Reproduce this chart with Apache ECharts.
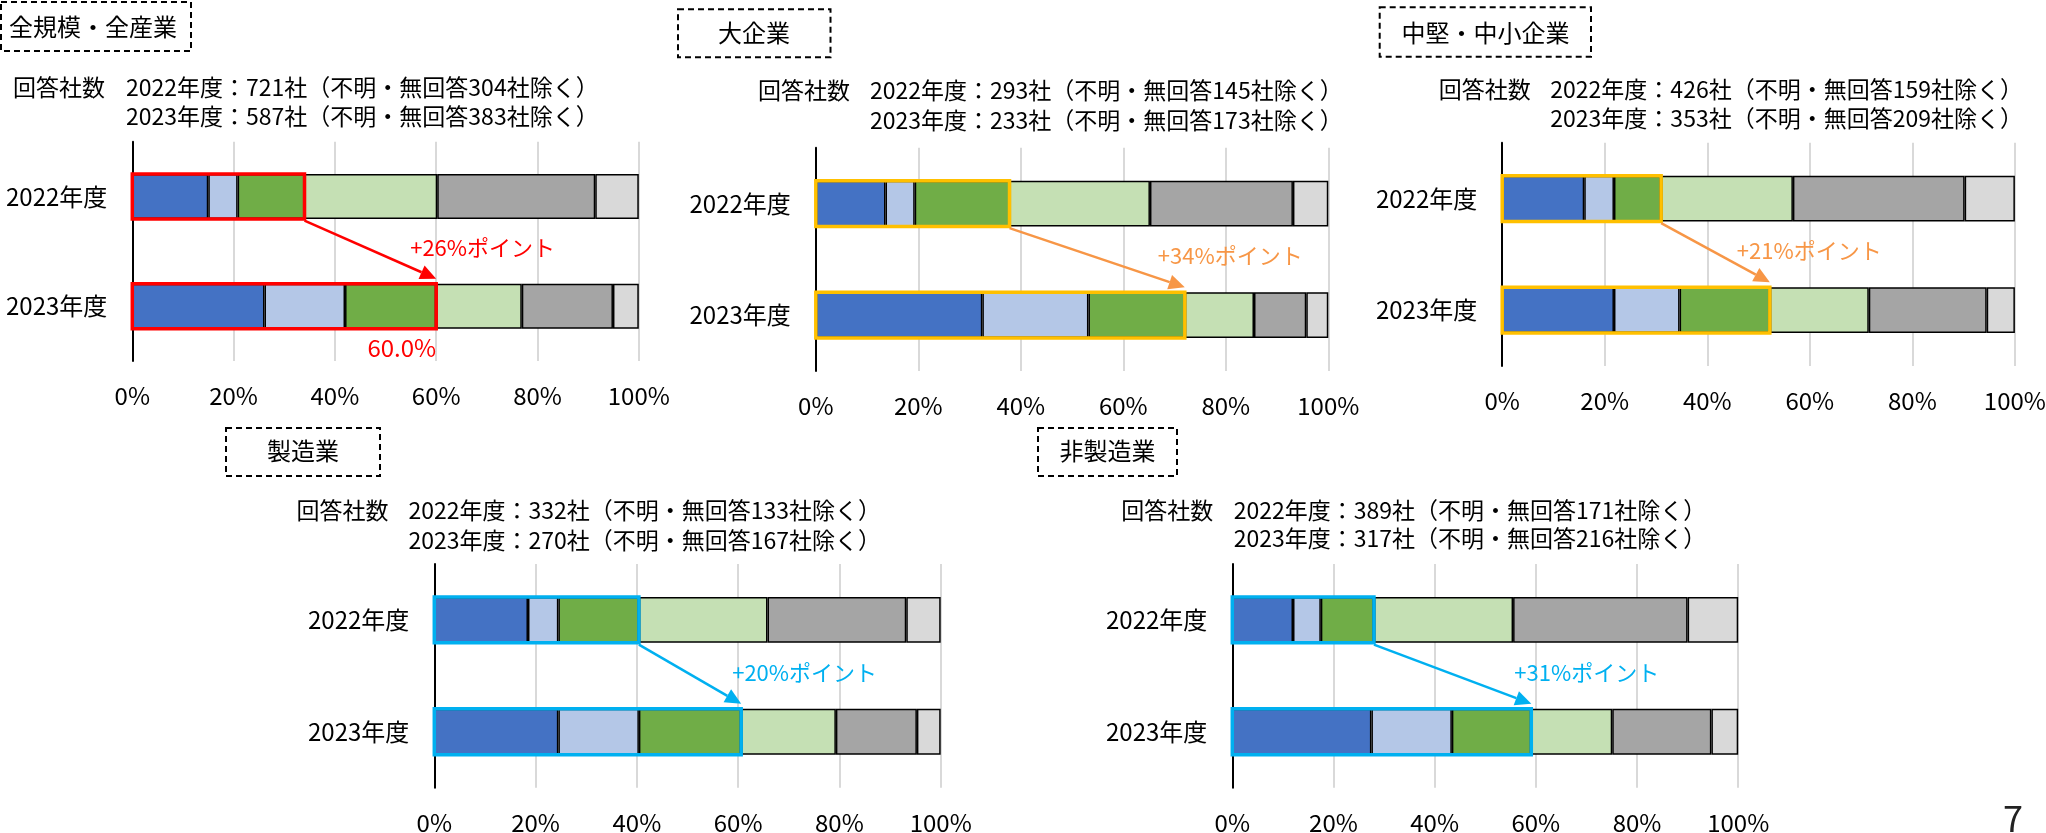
<!DOCTYPE html>
<html>
<head>
<meta charset="utf-8">
<script src="https://cdn.jsdelivr.net/npm/echarts@6/dist/echarts.min.js"></script>
<style>
  html, body { margin: 0; padding: 0; background: #fff; }
  #chart { width: 2046px; height: 833px; }
</style>
</head>
<body>
<div id="chart"></div>
<script>
// ---- data -------------------------------------------------------------
const years = ['2022年度', '2023年度'];
const xTicks = [0, 20, 40, 60, 80, 100];

const panelTitles = ['全規模・全産業', '大企業', '中堅・中小企業', '製造業', '非製造業'];
const respondents2022 = [721, 293, 426, 332, 389];
const excluded2022 = [304, 145, 159, 133, 171];
const respondents2023 = [587, 233, 353, 270, 317];
const excluded2023 = [383, 173, 209, 167, 216];

// shares (%) of the six answer groups, left to right
const allFy2022 = [15.0, 5.8, 13.2, 26.2, 31.2, 8.6];
const allFy2023 = [26.1, 15.9, 18.0, 16.9, 18.0, 5.1];
const largeFy2022 = [13.6, 5.7, 18.5, 27.4, 27.9, 6.9];
const largeFy2023 = [32.5, 20.7, 18.8, 13.5, 10.2, 4.3];
const smeFy2022 = [16.0, 5.8, 9.2, 25.7, 33.5, 9.8];
const smeFy2023 = [21.8, 12.8, 17.6, 19.3, 23.0, 5.5];
const mfgFy2022 = [18.5, 6.0, 15.9, 25.4, 27.4, 6.8];
const mfgFy2023 = [24.5, 15.9, 20.2, 18.7, 16.0, 4.7];
const nonMfgFy2022 = [12.0, 5.5, 10.5, 27.5, 34.5, 10.0];
const nonMfgFy2023 = [27.5, 15.9, 15.7, 16.0, 19.6, 5.3];

// ---- styles / layout --------------------------------------------------
const FONT = "'Noto Sans CJK JP', 'Noto Sans', sans-serif";
const segmentColors = ['#4472C4', '#B4C7E7', '#70AD47', '#C5E0B4', '#A5A5A5', '#D9D9D9'];
const BAR_RATIO = 0.41;
const HIGHLIGHT_COUNT = 3;

const panels = [
  { fy22: allFy2022, fy23: allFy2023,
    grid: { left: 132.3, top: 141.7, width: 506.5, height: 219.3 },
    box: { x: 1, y: 2, w: 190, h: 49 }, titleX: 9, titleAlign: 'left', titleY: 27,
    subLeft: 13, subText: 126, subY: [87.3, 116],
    frame: '#FF0000', arrow: '#FF0000', labelDx: -26, showValue: true },
  { fy22: largeFy2022, fy23: largeFy2023,
    grid: { left: 815.8, top: 147.7, width: 512.5, height: 223.3 },
    box: { x: 678, y: 9.3, w: 152.5, h: 48 }, titleX: 754, titleAlign: 'center', titleY: 33.3,
    subLeft: 758, subText: 870, subY: [90.7, 120],
    frame: '#FFC000', arrow: '#F79646', labelDx: -27, showValue: false },
  { fy22: smeFy2022, fy23: smeFy2023,
    grid: { left: 1502.2, top: 142.7, width: 512.7, height: 223.3 },
    box: { x: 1379.7, y: 7.3, w: 211.3, h: 49.4 }, titleX: 1485.5, titleAlign: 'center', titleY: 33.3,
    subLeft: 1438.7, subText: 1550.3, subY: [89.3, 118.3],
    frame: '#FFC000', arrow: '#F79646', labelDx: -33, showValue: false },
  { fy22: mfgFy2022, fy23: mfgFy2023,
    grid: { left: 434.3, top: 564, width: 506.4, height: 223.7 },
    box: { x: 226, y: 428, w: 154, h: 48 }, titleX: 303, titleAlign: 'center', titleY: 451,
    subLeft: 296.5, subText: 408.4, subY: [510.7, 540],
    frame: '#00B0F0', arrow: '#00B0F0', labelDx: -9, showValue: false },
  { fy22: nonMfgFy2022, fy23: nonMfgFy2023,
    grid: { left: 1232.3, top: 564, width: 505.9, height: 223.7 },
    box: { x: 1038, y: 428, w: 139, h: 48 }, titleX: 1107.5, titleAlign: 'center', titleY: 451,
    subLeft: 1121.3, subText: 1233.7, subY: [510, 538.3],
    frame: '#00B0F0', arrow: '#00B0F0', labelDx: -17, showValue: false }
];

const sumFirst = (arr, n) => arr.slice(0, n).reduce((a, b) => a + b, 0);

// ---- option -----------------------------------------------------------
const grids = [], xAxes = [], yAxes = [], series = [], graphics = [];

panels.forEach((p, i) => {
  grids.push(Object.assign({ containLabel: false, outerBoundsMode: 'none' }, p.grid));

  xAxes.push({
    gridIndex: i, type: 'value',
    min: xTicks[0], max: xTicks[xTicks.length - 1], interval: xTicks[1] - xTicks[0],
    axisLine: { show: false }, axisTick: { show: false },
    splitLine: { show: true, lineStyle: { color: '#D9D9D9', width: 2 } },
    axisLabel: { formatter: v => v + '%', fontSize: 24, color: '#000', fontFamily: FONT,
                 margin: 35, verticalAlign: 'middle' }
  });

  yAxes.push({
    gridIndex: i, type: 'category', data: years, inverse: true,
    axisLine: { show: true, lineStyle: { color: '#000', width: 2 } },
    axisTick: { show: false }, splitLine: { show: false },
    axisLabel: { fontSize: 24, color: '#000', fontFamily: FONT, margin: 25 }
  });

  // stacked shares
  segmentColors.forEach((c, k) => {
    series.push({
      type: 'bar', name: '区分' + (k + 1), xAxisIndex: i, yAxisIndex: i, stack: 'p' + i,
      barWidth: (BAR_RATIO * 100) + '%', silent: true,
      itemStyle: { color: c, borderColor: '#000', borderWidth: 1.5 },
      data: [p.fy22[k], p.fy23[k]]
    });
  });

  const s22 = sumFirst(p.fy22, HIGHLIGHT_COUNT);
  const s23 = sumFirst(p.fy23, HIGHLIGHT_COUNT);

  // frame around the first three groups of each year
  series.push({
    type: 'custom', xAxisIndex: i, yAxisIndex: i, z: 5, clip: false, silent: true,
    data: [[s22, 0], [s23, 1]],
    renderItem: (params, api) => {
      const v = api.value(0), cat = api.value(1);
      const a = api.coord([0, cat]), b = api.coord([v, cat]);
      const h = api.size([0, 1])[1] * BAR_RATIO;
      return {
        type: 'rect',
        shape: { x: a[0], y: a[1] - h / 2, width: b[0] - a[0], height: h },
        style: { fill: 'none', stroke: p.frame, lineWidth: 3.5 }
      };
    }
  });

  // arrow from 2022 to 2023 with the point change
  series.push({
    type: 'custom', xAxisIndex: i, yAxisIndex: i, z: 6, clip: false, silent: true,
    data: [[s22, s23, 0]], encode: { x: [0, 1], y: 2 },
    renderItem: (params, api) => {
      const v22 = api.value(0), v23 = api.value(1);
      const h = api.size([0, 1])[1] * BAR_RATIO;
      const a = api.coord([v22, 0]), b = api.coord([v23, 1]);
      const sx = a[0], sy = a[1] + h / 2 + 1.7;
      const ex = b[0], ey = b[1] - h / 2 - 5;
      const dx = ex - sx, dy = ey - sy, len = Math.hypot(dx, dy);
      const ux = dx / len, uy = dy / len;
      const headLen = 16, headHalf = 7.5;
      const bx = ex - ux * headLen, by = ey - uy * headLen;
      const children = [
        { type: 'line', shape: { x1: sx, y1: sy, x2: bx, y2: by },
          style: { stroke: p.arrow, lineWidth: 2.5 } },
        { type: 'polygon',
          shape: { points: [[ex, ey], [bx - uy * headHalf, by + ux * headHalf], [bx + uy * headHalf, by - ux * headHalf]] },
          style: { fill: p.arrow } },
        { type: 'text',
          style: { text: '+' + Math.round(v23 - v22) + '%ポイント', x: ex + p.labelDx, y: (sy + ey) / 2 - 2,
                   align: 'left', verticalAlign: 'middle', fill: p.arrow, fontSize: 22, fontFamily: FONT } }
      ];
      if (p.showValue) {
        children.push({
          type: 'text',
          style: { text: v23.toFixed(1) + '%', x: ex, y: b[1] + h / 2 + 19,
                   align: 'right', verticalAlign: 'middle', fill: p.frame, fontSize: 24, fontFamily: FONT }
        });
      }
      return { type: 'group', children };
    }
  });

  // panel heading and respondent counts
  graphics.push({
    type: 'rect', silent: true,
    shape: { x: p.box.x, y: p.box.y, width: p.box.w, height: p.box.h },
    style: { fill: 'none', stroke: '#000', lineWidth: 2, lineDash: [6, 4] }
  });
  graphics.push({
    type: 'text', silent: true,
    style: { text: panelTitles[i], x: p.titleX, y: p.titleY, align: p.titleAlign, verticalAlign: 'middle',
             fill: '#000', fontSize: 24, fontFamily: FONT }
  });
  graphics.push({
    type: 'text', silent: true,
    style: { text: '回答社数', x: p.subLeft, y: p.subY[0], align: 'left', verticalAlign: 'middle',
             fill: '#000', fontSize: 23, fontFamily: FONT }
  });
  graphics.push({
    type: 'text', silent: true,
    style: { text: years[0] + '：' + respondents2022[i] + '社（不明・無回答' + excluded2022[i] + '社除く）',
             x: p.subText, y: p.subY[0], align: 'left', verticalAlign: 'middle',
             fill: '#000', fontSize: 23, fontFamily: FONT }
  });
  graphics.push({
    type: 'text', silent: true,
    style: { text: years[1] + '：' + respondents2023[i] + '社（不明・無回答' + excluded2023[i] + '社除く）',
             x: p.subText, y: p.subY[1], align: 'left', verticalAlign: 'middle',
             fill: '#000', fontSize: 23, fontFamily: FONT }
  });
});

// page number
graphics.push({
  type: 'text', silent: true,
  style: { text: '7', x: 2013, y: 818, align: 'center', verticalAlign: 'middle',
           fill: '#222', fontSize: 36, fontFamily: FONT }
});

const chart = echarts.init(document.getElementById('chart'));
chart.setOption({
  animation: false,
  backgroundColor: '#fff',
  textStyle: { fontFamily: FONT },
  grid: grids,
  xAxis: xAxes,
  yAxis: yAxes,
  series: series,
  graphic: graphics
});
</script>
</body>
</html>
